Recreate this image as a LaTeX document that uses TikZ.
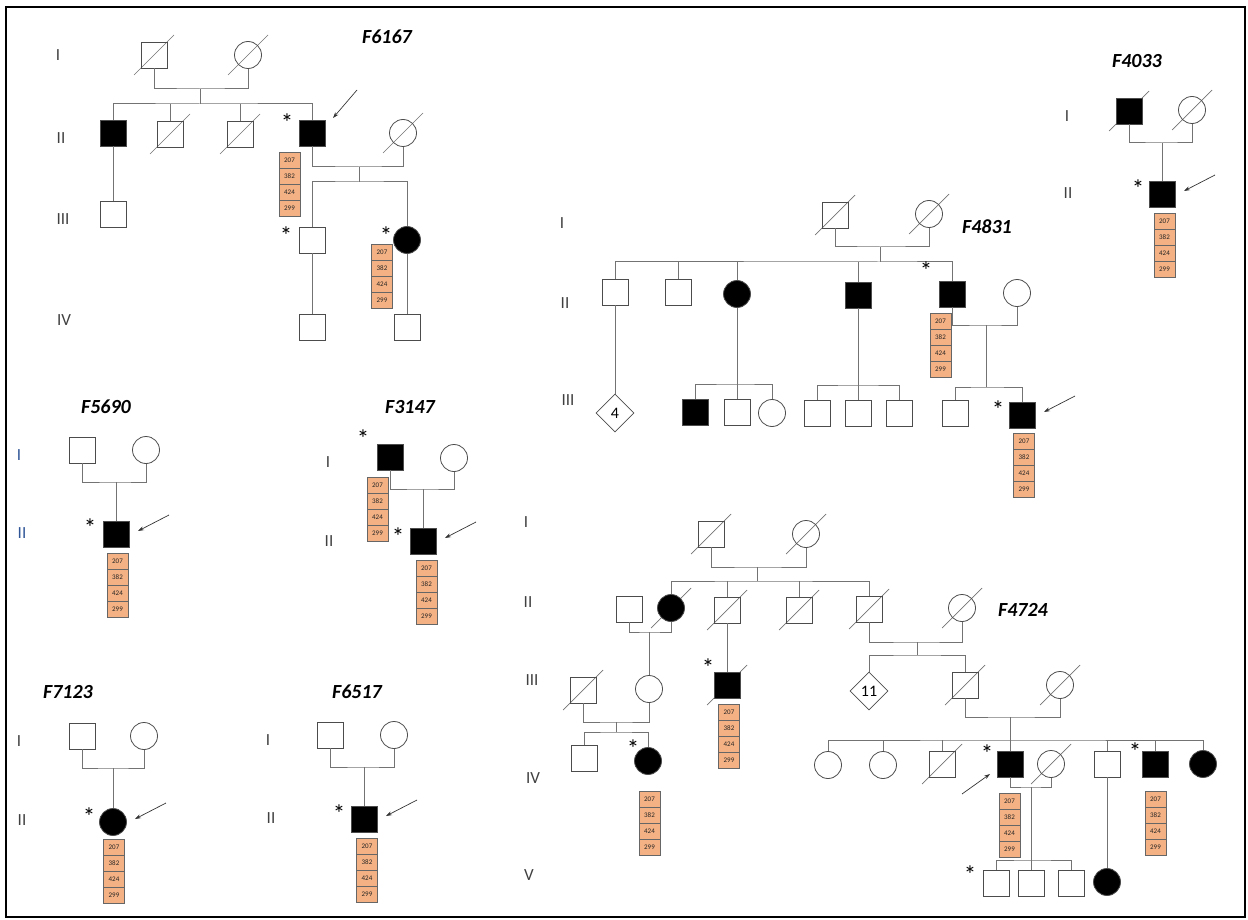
\documentclass[tikz,border=0pt]{standalone}
\usepackage{fontspec}
\setmainfont{Carlito}
\usetikzlibrary{arrows.meta,shapes.geometric}
\pgfdeclarelayer{bg}
\pgfsetlayers{bg,main}
\definecolor{geneorange}{RGB}{244,177,131}
\definecolor{labblue}{RGB}{47,85,151}
% four stacked variant cells below a carrier
\newcommand{\genes}[3]{%
  \foreach \k/\v in {0/207,1/382,2/424,3/299}{
    \node[gcell] (#1\k) at (#2,#3+8+\k*16) {\v};
  }
}
% deceased mark, kept behind the symbol
\newcommand{\dead}[1]{%
  \begin{pgfonlayer}{bg}
    \draw[deadline] ([shift={(-20,20)}]#1.center) -- ([shift={(20,-20)}]#1.center);
  \end{pgfonlayer}
}
\newcommand{\proband}[1]{%
  \draw[parrow] ([shift={(53,-19)}]#1.center) -- ([shift={(22,-3)}]#1.center);
}
\begin{document}
\begin{tikzpicture}[
    x=1pt, y=-1pt,
    male/.style={rectangle, draw=black!70, line width=0.8pt, minimum size=26pt, inner sep=0pt},
    female/.style={circle, draw=black!70, line width=0.8pt, minimum size=27pt, inner sep=0pt},
    unknown/.style={diamond, draw=black!70, line width=0.8pt, minimum size=38pt, inner sep=0pt, font=\fontsize{16}{16}\selectfont},
    aff/.style={fill=black},
    link/.style={draw=black!55, line width=1pt},
    deadline/.style={draw=black!55, line width=0.7pt},
    parrow/.style={-{Stealth[length=6pt,width=4pt]}, draw=black!80, line width=0.7pt},
    gcell/.style={draw=black!60, fill=geneorange, minimum width=21pt, minimum height=16pt, inner sep=0pt, font=\fontsize{7}{7}\selectfont, text=black!85},
    fam/.style={font=\fontsize{20}{20}\selectfont\bfseries\itshape},
    gen/.style={font=\fontsize{17}{17}\selectfont, text=black!75},
    star/.style={font=\fontsize{25}{25}\selectfont, inner sep=0pt, text height=0.68em, text depth=-0.35em, yshift=-8pt},
]
\useasboundingbox (0,0) rectangle (1248,920);
\draw[line width=2pt] (6,7) rectangle (1245,917);

% F6167
\node[fam] (a-t) at (387,37) {F6167};
\node[gen] (a-g1) at (58,55) {I};
\node[gen] (a-g2) at (61,138) {II};
\node[gen] (a-g3) at (63,219) {III};
\node[gen] (a-g4) at (64,320) {IV};
\node[male] (a11) at (154,55) {}; \dead{a11}
\node[female] (a12) at (248,55) {}; \dead{a12}
\coordinate (am1) at (200,89);
\coordinate (as1) at (200,104);
\node[male,aff] (a21) at (113,133) {};
\node[male] (a22) at (170,134) {}; \dead{a22}
\node[male] (a23) at (240,134) {}; \dead{a23}
\node[male,aff] (a24) at (312,133) {};
\node[female] (a25) at (403,133) {}; \dead{a25}
\coordinate (am2) at (359,167);
\coordinate (as2) at (359,182);
\node[male] (a31) at (113,214) {};
\node[male] (a32) at (312,240) {};
\node[female,aff] (a33) at (407,240) {};
\node[male] (a41) at (312,327) {};
\node[male] (a42) at (407,327) {};
\draw[link] (a11.south) |- (am1) -| (a12.south);
\draw[link] (am1) -- (as1);
\draw[link] (a21.north) |- (as1) -| (a24.north);
\draw[link] (a22.north) -- (a22.north |- as1);
\draw[link] (a23.north) -- (a23.north |- as1);
\draw[link] (a21.south) -- (a31.north);
\draw[link] (a24.south) |- (am2) -| (a25.south);
\draw[link] (am2) -- (as2);
\draw[link] (a32.north) |- (as2) -| (a33.north);
\draw[link] (a32.south) -- (a41.north);
\draw[link] (a33.south) -- (a42.north);
\node[star] (a-s1) at (287,120) {*};
\node[star] (a-s2) at (286,233) {*};
\node[star] (a-s3) at (386,233) {*};
\draw[parrow] ([shift={(45,-43)}]a24.center) -- ([shift={(21,-15)}]a24.center);
\genes{ga}{289.5}{152}
\genes{gb}{382}{244}

% F4831
\node[fam] (b-t) at (987,227) {F4831};
\node[gen] (b-g1) at (562,223) {I};
\node[gen] (b-g2) at (565,303) {II};
\node[gen] (b-g3) at (568,400) {III};
\node[male] (b11) at (835,215) {}; \dead{b11}
\node[female] (b12) at (929,214) {}; \dead{b12}
\coordinate (bm1) at (880,247);
\coordinate (bs1) at (880,262);
\node[male] (b21) at (615,292) {};
\node[male] (b22) at (678,292) {};
\node[female,aff] (b23) at (737,294) {};
\node[male,aff] (b24) at (858,295) {};
\node[male,aff] (b25) at (952,294) {};
\node[female] (b26) at (1017,293) {};
\coordinate (bm2) at (986,325);
\coordinate (bs2) at (986,387);
\coordinate (bs3) at (737,384);
\coordinate (bs4) at (858,385);
\node[unknown] (b31) at (615,413) {4};
\node[male,aff] (b32) at (695,412) {};
\node[male] (b33) at (737,412) {};
\node[female] (b34) at (772,413) {};
\node[male] (b35) at (817,413) {};
\node[male] (b36) at (858,413) {};
\node[male] (b37) at (899,413) {};
\node[male] (b38) at (955,413) {};
\node[male,aff] (b39) at (1022,415) {};
\draw[link] (b11.south) |- (bm1) -| (b12.south);
\draw[link] (bm1) -- (bs1);
\draw[link] (b21.north) |- (bs1) -| (b25.north);
\draw[link] (b22.north) -- (b22.north |- bs1);
\draw[link] (b23.north) -- (b23.north |- bs1);
\draw[link] (b24.north) -- (b24.north |- bs1);
\draw[link] (b21.south) -- (b31.north);
\draw[link] (b23.south) -- (b33.north);
\draw[link] (b32.north) |- (bs3) -| (b34.north);
\draw[link] (b24.south) -- (b36.north);
\draw[link] (b35.north) |- (bs4) -| (b37.north);
\draw[link] (b25.south) |- (bm2) -| (b26.south);
\draw[link] (bm2) -- (bs2);
\draw[link] (b38.north) |- (bs2) -| (b39.north);
\node[star] (b-s1) at (926,268) {*};
\node[star] (b-s2) at (998,407) {*};
\proband{b39}
\genes{gc}{940.5}{313}
\genes{gd}{1024}{433}

% F4033
\node[fam] (c-t) at (1137,61) {F4033};
\node[gen] (c-g1) at (1067,116) {I};
\node[gen] (c-g2) at (1068,193) {II};
\node[male,aff] (c11) at (1129,111) {}; \dead{c11}
\node[female] (c12) at (1192,110) {}; \dead{c12}
\coordinate (cm1) at (1162,143);
\node[male,aff] (c21) at (1162,194) {};
\draw[link] (c11.south) |- (cm1) -| (c12.south);
\draw[link] (cm1) -- (c21.north);
\node[star] (c-s1) at (1138,186) {*};
\proband{c21}
\genes{ge}{1164.5}{213}

% F5690
\node[fam] (d-t) at (106,407) {F5690};
\node[gen, text=labblue] (d-g1) at (19,455) {I};
\node[gen, text=labblue] (d-g2) at (22,533) {II};
\node[male] (d11) at (82,450) {};
\node[female] (d12) at (146,450) {};
\coordinate (dm1) at (116,482);
\node[male,aff] (d21) at (116,534) {};
\draw[link] (d11.south) |- (dm1) -| (d12.south);
\draw[link] (dm1) -- (d21.north);
\node[star] (d-s1) at (90,525) {*};
\proband{d21}
\genes{gf}{117.5}{553}

% F3147
\node[fam] (e-t) at (410,407) {F3147};
\node[gen] (e-g1) at (328,462) {I};
\node[gen] (e-g2) at (329,541) {II};
\node[male,aff] (e11) at (390,457) {};
\node[female] (e12) at (454,458) {};
\coordinate (em1) at (423,489);
\node[male,aff] (e21) at (423,541) {};
\draw[link] (e11.south) |- (em1) -| (e12.south);
\draw[link] (em1) -- (e21.north);
\node[star] (e-s1) at (363,436) {*};
\node[star] (e-s2) at (398,534) {*};
\proband{e21}
\genes{gg}{377.5}{477}
\genes{gh}{426.5}{560}

% F7123
\node[fam] (f-t) at (68,692) {F7123};
\node[gen] (f-g1) at (19,741) {I};
\node[gen] (f-g2) at (22,820) {II};
\node[male] (f11) at (82,736) {};
\node[female] (f12) at (144,736) {};
\coordinate (fm1) at (113,768);
\node[female,aff] (f21) at (113,822) {};
\draw[link] (f11.south) |- (fm1) -| (f12.south);
\draw[link] (fm1) -- (f21.north);
\node[star] (f-s1) at (89,814) {*};
\proband{f21}
\genes{gi}{114}{839}

% F6517
\node[fam] (g-t) at (357,692) {F6517};
\node[gen] (g-g1) at (268,740) {I};
\node[gen] (g-g2) at (271,818) {II};
\node[male] (g11) at (330,735) {};
\node[female] (g12) at (394,735) {};
\coordinate (gm1) at (364,767);
\node[male,aff] (g21) at (364,819) {};
\draw[link] (g11.south) |- (gm1) -| (g12.south);
\draw[link] (gm1) -- (g21.north);
\node[star] (g-s1) at (339,811) {*};
\proband{g21}
\genes{gj}{367}{838}

% F4724
\node[fam] (h-t) at (1023,610) {F4724};
\node[gen] (h-g1) at (526,522) {I};
\node[gen] (h-g2) at (528,602) {II};
\node[gen] (h-g3) at (532,680) {III};
\node[gen] (h-g4) at (533,778) {IV};
\node[gen] (h-g5) at (529,875) {V};
\node[male] (h11) at (711,534) {}; \dead{h11}
\node[female] (h12) at (806,534) {}; \dead{h12}
\coordinate (hm1) at (757,567);
\coordinate (hs1) at (757,581);
\node[male] (h21) at (629,609) {};
\node[female,aff] (h22) at (671,608) {}; \dead{h22}
\node[male] (h23) at (727,610) {}; \dead{h23}
\node[male] (h24) at (799,610) {}; \dead{h24}
\node[male] (h25) at (869,609) {}; \dead{h25}
\node[female] (h26) at (962,608) {}; \dead{h26}
\coordinate (hm2) at (649,632);
\coordinate (hm3) at (917,642);
\coordinate (hs3) at (917,655);
\node[male] (h31) at (583,690) {}; \dead{h31}
\node[female] (h32) at (649,689) {};
\node[male,aff] (h33) at (727,685) {}; \dead{h33}
\node[unknown] (h34) at (869,691) {11};
\node[male] (h35) at (965,685) {}; \dead{h35}
\node[female] (h36) at (1060,685) {}; \dead{h36}
\coordinate (hm4) at (616,722);
\coordinate (hs4) at (616,732);
\coordinate (hm5) at (1010,717);
\coordinate (hs5) at (1010,740);
\node[male] (h41) at (584,758) {};
\node[female,aff] (h42) at (648,761) {};
\node[female] (h43) at (828,765) {};
\node[female] (h44) at (883,765) {};
\node[male] (h45) at (942,764) {}; \dead{h45}
\node[male,aff] (h46) at (1010,764) {};
\node[female] (h47) at (1051,764) {}; \dead{h47}
\node[male] (h48) at (1107,764) {};
\node[male,aff] (h49) at (1155,764) {};
\node[female,aff] (h4a) at (1203,764) {};
\coordinate (hm6) at (1031,787);
\coordinate (hs6) at (1031,860);
\node[male] (h51) at (996,883) {};
\node[male] (h52) at (1031,883) {};
\node[male] (h53) at (1071,883) {};
\node[female,aff] (h54) at (1107,882) {};
\draw[link] (h11.south) |- (hm1) -| (h12.south);
\draw[link] (hm1) -- (hs1);
\draw[link] (h22.north) |- (hs1) -| (h25.north);
\draw[link] (h23.north) -- (h23.north |- hs1);
\draw[link] (h24.north) -- (h24.north |- hs1);
\draw[link] (h21.south) |- (hm2) -| (h22.south);
\draw[link] (hm2) -- (h32.north);
\draw[link] (h23.south) -- (h33.north);
\draw[link] (h25.south) |- (hm3) -| (h26.south);
\draw[link] (hm3) -- (hs3);
\draw[link] (h34.north) |- (hs3) -| (h35.north);
\draw[link] (h31.south) |- (hm4) -| (h32.south);
\draw[link] (hm4) -- (hs4);
\draw[link] (h41.north) |- (hs4) -| (h42.north);
\draw[link] (h35.south) |- (hm5) -| (h36.south);
\draw[link] (hm5) -- (hs5);
\draw[link] (h43.north) |- (hs5) -| (h4a.north);
\draw[link] (h44.north) -- (h44.north |- hs5);
\draw[link] (h45.north) -- (h45.north |- hs5);
\draw[link] (h46.north) -- (h46.north |- hs5);
\draw[link] (h48.north) -- (h48.north |- hs5);
\draw[link] (h49.north) -- (h49.north |- hs5);
\draw[link] (h46.south) |- (hm6) -| (h47.south);
\draw[link] (hm6) -- (h52.north);
\draw[link] (h51.north) |- (hs6) -| (h53.north);
\draw[link] (h48.south) -- (h54.north);
\node[star] (h-s1) at (708,665) {*};
\node[star] (h-s2) at (633,746) {*};
\node[star] (h-s3) at (987,751) {*};
\node[star] (h-s4) at (1135,749) {*};
\node[star] (h-s5) at (970,872) {*};
\draw[parrow] ([shift={(-48,30)}]h46.center) -- ([shift={(-20,10)}]h46.center);
\genes{gk}{729}{704}
\genes{gl}{649.5}{791}
\genes{gm}{1009.5}{793}
\genes{gn}{1155.5}{791}
\end{tikzpicture}
\end{document}
